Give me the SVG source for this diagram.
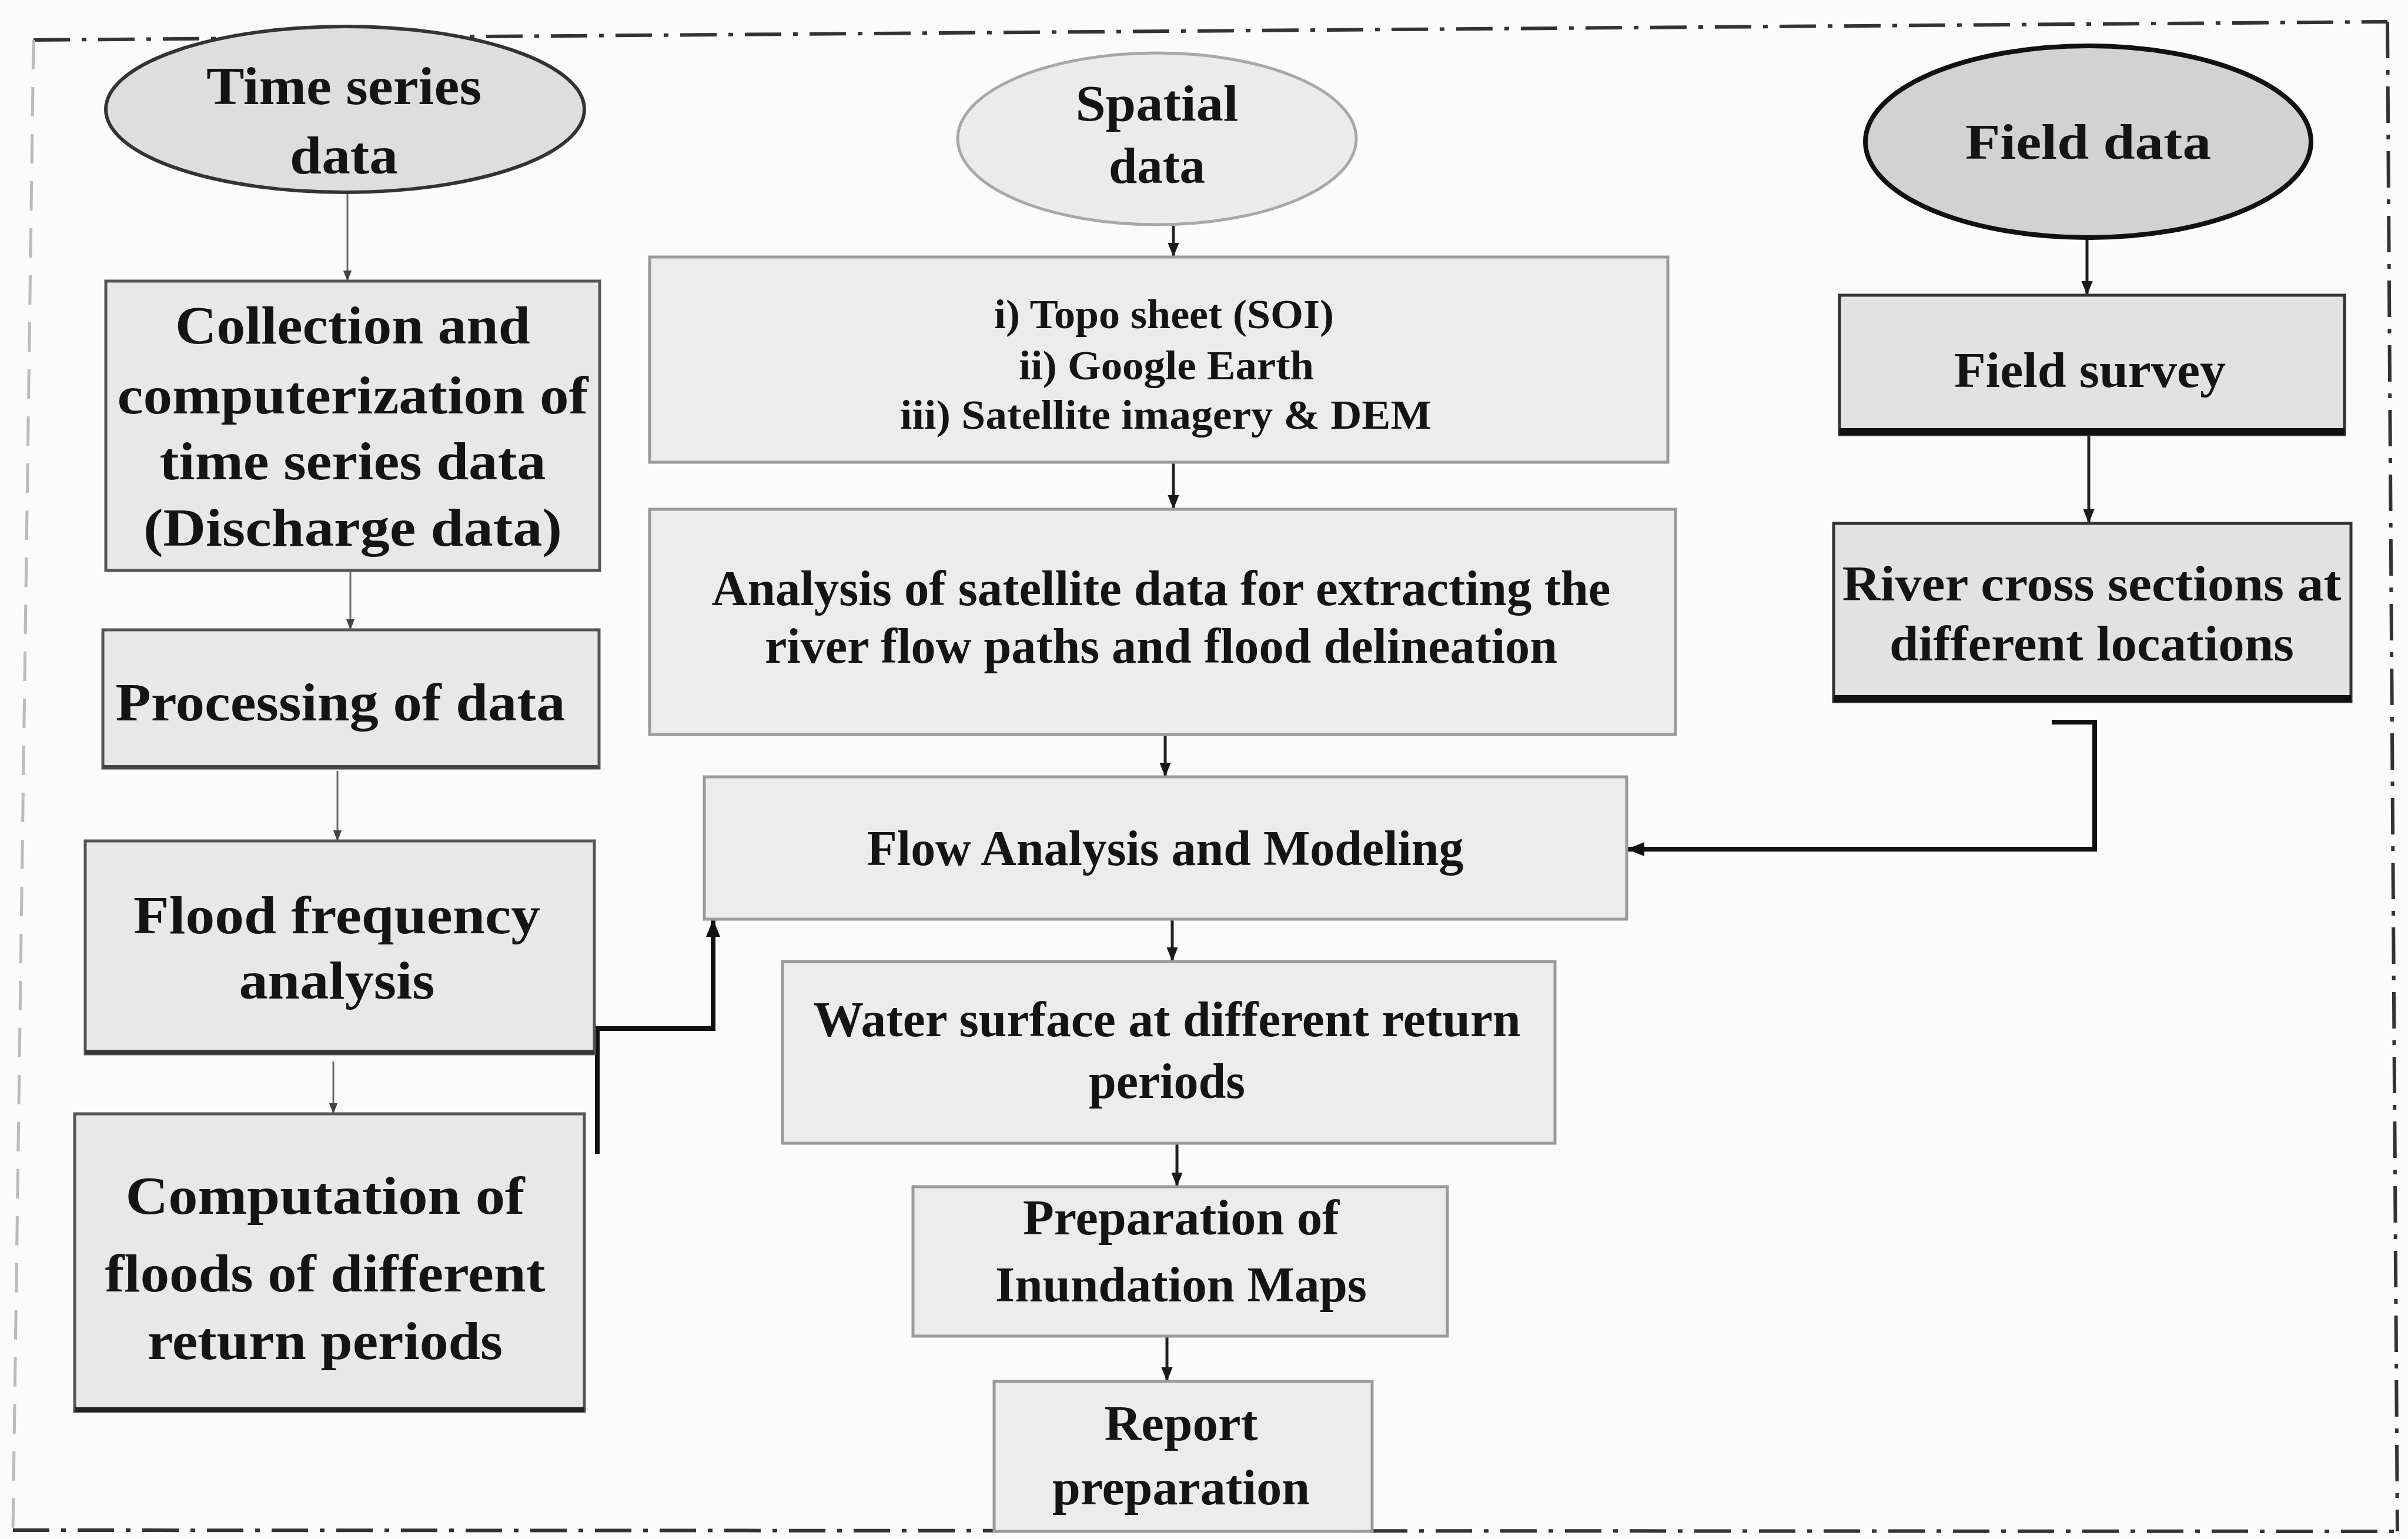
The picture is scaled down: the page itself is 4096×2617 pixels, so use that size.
<svg xmlns="http://www.w3.org/2000/svg" width="4096" height="2617" viewBox="0 0 4096 2617">
<style>
.t{font-family:"Liberation Serif","Times New Roman",serif;font-weight:bold;fill:#141414;text-anchor:middle}
.fl{font-size:90px}.fm{font-size:84px}.fs{font-size:70px}
.boxL{fill:#e8e8e8;stroke:#555;stroke-width:5}
.boxM{fill:#ececec;stroke:#9a9a9a;stroke-width:5}
.boxR{fill:#e2e2e2;stroke:#333;stroke-width:5}
.shadow{stroke:#1a1a1a;stroke-width:10;fill:none}
.cL{stroke:#6a6a6a;stroke-width:3;fill:none}
.cM{stroke:#222;stroke-width:5;fill:none}
.cB{stroke:#111;stroke-width:8;fill:none}
.bd{stroke:#333;stroke-width:6;fill:none;stroke-dasharray:62 20 8 20}
.bdl{stroke:#bbb;stroke-width:5;fill:none;stroke-dasharray:50 30}
</style>
<defs>
<marker id="ahS" viewBox="0 0 10 10" refX="10" refY="5" markerWidth="18" markerHeight="18" markerUnits="userSpaceOnUse" orient="auto"><path d="M0,1 L10,5 L0,9 z" fill="#444"/></marker>
<marker id="ahM" viewBox="0 0 10 10" refX="10" refY="5" markerWidth="24" markerHeight="24" markerUnits="userSpaceOnUse" orient="auto"><path d="M0,1 L10,5 L0,9 z" fill="#1a1a1a"/></marker>
<marker id="ahB" viewBox="0 0 10 10" refX="10" refY="5" markerWidth="30" markerHeight="30" markerUnits="userSpaceOnUse" orient="auto"><path d="M0,1 L10,5 L0,9 z" fill="#111"/></marker>
</defs>
<rect x="0" y="0" width="4096" height="2617" fill="#fbfbfb"/>
<g id="border">
<line class="bd" x1="57" y1="68" x2="4061" y2="37"/>
<line class="bd" x1="4061" y1="37" x2="4078" y2="2604"/>
<line class="bd" x1="22" y1="2602" x2="4078" y2="2604"/>
<line class="bdl" x1="57" y1="68" x2="22" y2="2602"/>
</g>
<g id="connectors">
<line class="cL" x1="591" y1="327" x2="591" y2="478" marker-end="url(#ahS)"/>
<line class="cL" x1="596" y1="970" x2="596" y2="1071" marker-end="url(#ahS)"/>
<line class="cL" x1="574" y1="1311" x2="574" y2="1430" marker-end="url(#ahS)"/>
<line class="cL" x1="567" y1="1805" x2="567" y2="1894" marker-end="url(#ahS)"/>
<line class="cM" x1="1996" y1="380" x2="1996" y2="437" marker-end="url(#ahM)"/>
<line class="cM" x1="1996" y1="786" x2="1996" y2="866" marker-end="url(#ahM)"/>
<line class="cM" x1="1982" y1="1249" x2="1982" y2="1321" marker-end="url(#ahM)"/>
<line class="cM" x1="1994" y1="1563" x2="1994" y2="1635" marker-end="url(#ahM)"/>
<line class="cM" x1="2002" y1="1944" x2="2002" y2="2018" marker-end="url(#ahM)"/>
<line class="cM" x1="1985" y1="2272" x2="1985" y2="2349" marker-end="url(#ahM)"/>
<line class="cM" x1="3550" y1="404" x2="3550" y2="502" marker-end="url(#ahM)"/>
<line class="cM" x1="3553" y1="739" x2="3553" y2="890" marker-end="url(#ahM)"/>
<polyline class="cB" points="3490,1228 3563,1228 3563,1444 2767,1444" marker-end="url(#ahB)"/>
<line class="cB" x1="1016" y1="1962" x2="1016" y2="1749"/>
<polyline class="cB" points="1011,1749 1213,1749 1213,1563" marker-end="url(#ahB)"/>
</g>
<g id="n-timeseries">
<ellipse cx="587" cy="186" rx="407" ry="141" fill="#dedede" stroke="#333" stroke-width="6"/>
<text class="t fl" x="585" y="177" textLength="468" lengthAdjust="spacingAndGlyphs">Time series</text>
<text class="t fl" x="585" y="295" textLength="184" lengthAdjust="spacingAndGlyphs">data</text>
</g>
<g id="n-collection">
<rect class="boxL" x="180" y="478" width="840" height="492"/>
<text class="t fl" x="600" y="584" textLength="604" lengthAdjust="spacingAndGlyphs">Collection and</text>
<text class="t fl" x="600" y="703" textLength="801" lengthAdjust="spacingAndGlyphs">computerization of</text>
<text class="t fl" x="600" y="815" textLength="657" lengthAdjust="spacingAndGlyphs">time series data</text>
<text class="t fl" x="600" y="928" textLength="712" lengthAdjust="spacingAndGlyphs">(Discharge data)</text>
</g>
<g id="n-processing">
<rect class="boxL" x="175" y="1071" width="844" height="235"/>
<line class="shadow" x1="175" y1="1304" x2="1019" y2="1304" style="stroke-width:6;stroke:#444"/>
<text class="t fl" x="579" y="1225" textLength="765" lengthAdjust="spacingAndGlyphs">Processing of data</text>
</g>
<g id="n-floodfreq">
<rect class="boxL" x="145" y="1430" width="866" height="362"/>
<line class="shadow" x1="145" y1="1789" x2="1011" y2="1789" style="stroke-width:7;stroke:#333"/>
<text class="t fl" x="573" y="1587" textLength="692" lengthAdjust="spacingAndGlyphs">Flood frequency</text>
<text class="t fl" x="573" y="1698" textLength="333" lengthAdjust="spacingAndGlyphs">analysis</text>
</g>
<g id="n-computation">
<rect class="boxL" x="127" y="1894" width="867" height="506"/>
<line class="shadow" x1="127" y1="2397" x2="994" y2="2397" style="stroke-width:8;stroke:#222"/>
<text class="t fl" x="553" y="2064" textLength="679" lengthAdjust="spacingAndGlyphs">Computation of</text>
<text class="t fl" x="553" y="2196" textLength="749" lengthAdjust="spacingAndGlyphs">floods of different</text>
<text class="t fl" x="553" y="2311" textLength="604" lengthAdjust="spacingAndGlyphs">return periods</text>
</g>
<g id="n-spatial">
<ellipse cx="1968" cy="236" rx="339" ry="146" fill="#ebebeb" stroke="#a8a8a8" stroke-width="5"/>
<text class="t" style="font-size:86px" x="1968" y="205" textLength="277" lengthAdjust="spacingAndGlyphs">Spatial</text>
<text class="t" style="font-size:86px" x="1968" y="311" textLength="164" lengthAdjust="spacingAndGlyphs">data</text>
</g>
<g id="n-topo">
<rect class="boxM" x="1105" y="437" width="1732" height="349"/>
<text class="t fs" x="1980" y="558" textLength="578" lengthAdjust="spacingAndGlyphs">i) Topo sheet (SOI)</text>
<text class="t fs" x="1984" y="645" textLength="502" lengthAdjust="spacingAndGlyphs">ii) Google Earth</text>
<text class="t fs" x="1983" y="729" textLength="904" lengthAdjust="spacingAndGlyphs">iii) Satellite imagery &amp; DEM</text>
</g>
<g id="n-analysis">
<rect class="boxM" x="1105" y="866" width="1745" height="383"/>
<text class="t fm" x="1975" y="1029" textLength="1529" lengthAdjust="spacingAndGlyphs">Analysis of satellite data for extracting the</text>
<text class="t fm" x="1975" y="1127" textLength="1348" lengthAdjust="spacingAndGlyphs">river flow paths and flood delineation</text>
</g>
<g id="n-flow">
<rect class="boxM" x="1198" y="1321" width="1569" height="242"/>
<text class="t fm" x="1982" y="1471" textLength="1015" lengthAdjust="spacingAndGlyphs">Flow Analysis and Modeling</text>
</g>
<g id="n-water">
<rect class="boxM" x="1331" y="1635" width="1314" height="309"/>
<text class="t fm" x="1985" y="1762" textLength="1203" lengthAdjust="spacingAndGlyphs">Water surface at different return</text>
<text class="t fm" x="1985" y="1867" textLength="266" lengthAdjust="spacingAndGlyphs">periods</text>
</g>
<g id="n-prep">
<rect class="boxM" x="1553" y="2018" width="909" height="254"/>
<text class="t fm" x="2009" y="2099" textLength="538" lengthAdjust="spacingAndGlyphs">Preparation of</text>
<text class="t fm" x="2009" y="2213" textLength="632" lengthAdjust="spacingAndGlyphs">Inundation Maps</text>
</g>
<g id="n-report">
<rect class="boxM" x="1691" y="2349" width="643" height="255"/>
<text class="t fm" x="2009" y="2449" textLength="261" lengthAdjust="spacingAndGlyphs">Report</text>
<text class="t fm" x="2009" y="2558" textLength="438" lengthAdjust="spacingAndGlyphs">preparation</text>
</g>
<g id="n-fielddata">
<ellipse cx="3552" cy="241" rx="379" ry="163" fill="#d2d2d2" stroke="#111" stroke-width="8"/>
<text class="t fm" x="3552" y="270" textLength="418" lengthAdjust="spacingAndGlyphs">Field data</text>
</g>
<g id="n-fieldsurvey">
<rect class="boxR" x="3129" y="502" width="859" height="237"/>
<line class="shadow" x1="3129" y1="734" x2="3988" y2="734" style="stroke-width:12;stroke:#111"/>
<text class="t fm" x="3555" y="658" textLength="462" lengthAdjust="spacingAndGlyphs">Field survey</text>
</g>
<g id="n-river">
<rect class="boxR" x="3119" y="890" width="880" height="303"/>
<line class="shadow" x1="3119" y1="1188" x2="3999" y2="1188" style="stroke-width:12;stroke:#111"/>
<text class="t fm" x="3558" y="1021" textLength="849" lengthAdjust="spacingAndGlyphs">River cross sections at</text>
<text class="t fm" x="3558" y="1123" textLength="688" lengthAdjust="spacingAndGlyphs">different locations</text>
</g>
</svg>
